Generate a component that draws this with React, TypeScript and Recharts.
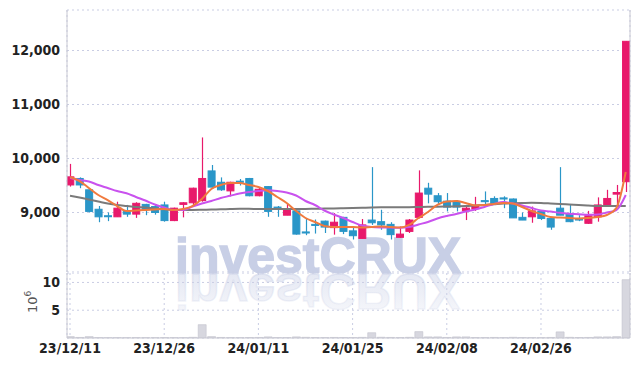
import React from 'react';
import { Bar, CartesianGrid, ComposedChart, Line, XAxis, YAxis } from 'recharts';

// trading days, 23/12/11 .. 24/03/11
const dates = [
  '23/12/11', '23/12/12', '23/12/13', '23/12/14', '23/12/15', '23/12/18', '23/12/19', '23/12/20', '23/12/21', '23/12/22',
  '23/12/26', '23/12/27', '23/12/28', '24/01/02', '24/01/03', '24/01/04', '24/01/05', '24/01/08', '24/01/09', '24/01/10',
  '24/01/11', '24/01/12', '24/01/15', '24/01/16', '24/01/17', '24/01/18', '24/01/19', '24/01/22', '24/01/23', '24/01/24',
  '24/01/25', '24/01/26', '24/01/29', '24/01/30', '24/01/31', '24/02/01', '24/02/02', '24/02/05', '24/02/06', '24/02/07',
  '24/02/08', '24/02/13', '24/02/14', '24/02/15', '24/02/16', '24/02/19', '24/02/20', '24/02/21', '24/02/22', '24/02/23',
  '24/02/26', '24/02/27', '24/02/28', '24/02/29', '24/03/04', '24/03/05', '24/03/06', '24/03/07', '24/03/08', '24/03/11',
];

const openPrices = [
  9510, 9630, 9420, 9060, 8940, 8920, 9030, 8970, 9150, 9110,
  9140, 8850, 9150, 9180, 9220, 9770, 9560, 9400, 9580, 9630,
  9310, 9480, 9100, 8950, 9030, 8640, 8780, 8840, 8720, 8910,
  8660, 8520, 8860, 8830, 8780, 8540, 8650, 8910, 9450, 9310,
  9210, 9200, 9030, 9070, 9220, 9260, 9270, 9250, 8910, 8920,
  9020, 8890, 9080, 8970, 8880, 8800, 8920, 9130, 9340, 9570,
];
const closePrices = [
  9660, 9510, 9020, 8920, 8930, 9080, 8970, 9170, 9050, 9000,
  8850, 9080, 9180, 9450, 9630, 9470, 9420, 9560, 9560, 9310,
  9430, 9020, 9060, 9050, 8600, 8620, 8760, 8730, 8820, 8650,
  8570, 8770, 8810, 8770, 8590, 8600, 8860, 9360, 9340, 9200,
  9100, 9100, 9080, 9110, 9200, 9170, 9250, 8900, 8860, 9030,
  8890, 8730, 8950, 8830, 8860, 8940, 9140, 9260, 9370, 12170,
];
const highPrices = [
  9900, 9650, 9450, 9120, 9000, 9200, 9140, 9190, 9160, 9140,
  9200, 9090, 9190, 9460, 10390, 9880, 9650, 9570, 9620, 9640,
  9470, 9490, 9120, 9170, 9040, 8890, 8870, 8850, 8990, 8920,
  8740, 8880, 9840, 9050, 8820, 8740, 8880, 9780, 9550, 9360,
  9360, 9230, 9140, 9290, 9390, 9300, 9300, 9260, 9000, 9110,
  9030, 8900, 9840, 9140, 8950, 9030, 9280, 9420, 9510, 12170,
];
const lowPrices = [
  9480, 9450, 9000, 8820, 8840, 8920, 8920, 8900, 8950, 8960,
  8830, 8840, 8910, 9140, 9200, 9440, 9400, 9300, 9500, 9300,
  9300, 8920, 8920, 8950, 8590, 8580, 8610, 8620, 8590, 8600,
  8500, 8520, 8770, 8680, 8500, 8530, 8620, 8890, 9170, 9140,
  9020, 9020, 8860, 9030, 9140, 9140, 9080, 8900, 8860, 8810,
  8860, 8680, 8950, 8820, 8840, 8790, 8830, 9120, 9110, 9380,
];

// moving averages
const ma5 = [
  9657, 9583, 9454, 9324, 9231, 9120, 9028, 9037, 9046, 9056,
  9065, 9046, 9065, 9120, 9250, 9435, 9509, 9546, 9546, 9509,
  9472, 9398, 9287, 9176, 9028, 8898, 8824, 8750, 8731, 8731,
  8730, 8720, 8730, 8740, 8730, 8720, 8769, 8898, 9009, 9139,
  9204, 9213, 9176, 9130, 9139, 9157, 9176, 9167, 9102, 9028,
  8972, 8917, 8907, 8898, 8889, 8898, 8917, 8954, 9083, 9750,
];
const ma20 = [
  9639, 9602, 9574, 9509, 9454, 9398, 9356, 9287, 9222, 9148,
  9093, 9046, 9046, 9111, 9167, 9213, 9269, 9309, 9352, 9380,
  9398, 9411, 9398, 9370, 9315, 9213, 9139, 9037, 8963, 8898,
  8824, 8759, 8731, 8722, 8720, 8718, 8731, 8778, 8824, 8889,
  8935, 8972, 9019, 9056, 9102, 9157, 9194, 9167, 9130, 9083,
  9037, 9019, 8994, 8978, 8969, 8957, 8963, 9000, 9046, 9324,
];
const ma60 = [
  9311, 9278, 9241, 9204, 9167, 9139, 9120, 9102, 9093, 9074,
  9059, 9046, 9046, 9046, 9050, 9056, 9059, 9065, 9069, 9069,
  9065, 9065, 9065, 9065, 9065, 9065, 9069, 9072, 9076, 9080,
  9083, 9087, 9093, 9096, 9096, 9096, 9098, 9102, 9106, 9107,
  9111, 9115, 9120, 9130, 9139, 9152, 9165, 9172, 9176, 9180,
  9176, 9167, 9157, 9148, 9139, 9130, 9120, 9120, 9120, 9120,
];

// volume, millions of shares
const volume = [
  0.25, 0.1, 0.25, 0.08, 0.06, 0.07, 0.06, 0.08, 0.07, 0.06,
  0.09, 0.07, 0.06, 0.12, 2.4, 0.25, 0.1, 0.08, 0.07, 0.09,
  0.1, 0.2, 0.08, 0.07, 0.2, 0.12, 0.09, 0.08, 0.1, 0.09,
  0.08, 0.11, 0.95, 0.14, 0.1, 0.08, 0.12, 1.15, 0.2, 0.2,
  0.1, 0.2, 0.2, 0.09, 0.08, 0.1, 0.07, 0.12, 0.09, 0.08,
  0.07, 0.1, 1.1, 0.12, 0.09, 0.1, 0.2, 0.2, 0.25, 10.5,
];

const priceTicks = [8000, 9000, 10000, 11000, 12000];
const volumeTicks = [5, 10];
const dateTicks = [0, 10, 20, 30, 40, 50];

const rows = dates.map((date, i) => ({
  i,
  date,
  open: openPrices[i],
  close: closePrices[i],
  high: highPrices[i],
  low: lowPrices[i],
  ma5: ma5[i],
  ma20: ma20[i],
  ma60: ma60[i],
  volume: volume[i],
}));

const UP = '#e8196b';
const DOWN = '#2a96c8';
const GRID = '#c9cde3';
const AXIS = '#c8c8d2';
const X_DOMAIN = [-0.32, 59.45];
const PRICE_DOMAIN = [7898, 12750];
const VOL_DOMAIN = [0, 11.7];

const tickStyle = {
  fontFamily: "'Liberation Sans Narrow', 'DejaVu Sans Condensed', sans-serif",
  fontWeight: 700,
  fontSize: 14,
  fill: '#222',
};

const Candle = (props: any) => {
  const { x, y, width, height, payload } = props;
  if (!payload || width == null) return null;
  const { open, close, high, low } = payload;
  const top = Math.min(y, y + height);
  const h = Math.abs(height);
  const k = h / (high - low);
  const py = (v: number) => top + (high - v) * k;
  const color = close >= open ? UP : DOWN;
  const cx = Math.round(x + width / 2) + 0.5;
  const bTop = py(Math.max(open, close));
  const bH = Math.max(1, py(Math.min(open, close)) - bTop);
  return (
    <g>
      <line x1={cx} x2={cx} y1={top} y2={top + h} stroke={color} strokeWidth={1.2} />
      <rect x={x + 0.5} y={bTop} width={width - 1} height={bH} fill={color} stroke={color} strokeWidth={1} />
    </g>
  );
};

const wmFont = "'Liberation Sans', Arial, sans-serif";

const Watermark = () => (
  <svg width={639} height={366} style={{ position: 'absolute', left: 0, top: 0 }}>
    <defs>
      <linearGradient id="wmFade" x1="0" y1="0" x2="0" y2="1">
        <stop offset="0" stopColor="#cdd3e8" stopOpacity={0.15} />
        <stop offset="1" stopColor="#cdd3e8" stopOpacity={0.6} />
      </linearGradient>
    </defs>
    <text x={175} y={273} fontFamily={wmFont} fontWeight={700} fontSize={50} fill="#c8cfe6" stroke="#c8cfe6" strokeWidth={1.4}>
      investCRUX
    </text>
    <g transform="translate(0,547) scale(1,-1)">
      <text x={175} y={273} fontFamily={wmFont} fontWeight={700} fontSize={50} fill="url(#wmFade)" stroke="url(#wmFade)" strokeWidth={1.4}>
        investCRUX
      </text>
    </g>
  </svg>
);

const App: React.FC = () => {
  return (
    <div style={{ position: 'absolute', left: 0, top: 0, width: 639, height: 366, background: '#fff' }}>
      <Watermark />
      <div style={{ position: 'absolute', left: 0, top: 0 }}>
        <ComposedChart width={639} height={272} data={rows} margin={{ top: 10, right: 0, bottom: 0, left: 0 }}>
          <CartesianGrid stroke={GRID} strokeDasharray="2 3" />
          <XAxis
            type="number"
            dataKey="i"
            domain={X_DOMAIN}
            ticks={dateTicks}
            allowDataOverflow
            height={0}
            tick={false}
            tickLine={false}
            axisLine={{ stroke: AXIS }}
          />
          <YAxis
            domain={PRICE_DOMAIN}
            ticks={priceTicks}
            allowDataOverflow
            width={67}
            tickSize={0}
            tickMargin={7}
            tickLine={false}
            axisLine={{ stroke: AXIS }}
            tick={tickStyle}
            tickFormatter={(v: number) => v.toLocaleString('en-US')}
          />
          <YAxis yAxisId="r" orientation="right" width={9} domain={PRICE_DOMAIN} tick={false} tickLine={false} axisLine={{ stroke: AXIS }} />
          <Bar dataKey={(d: any) => [d.low, d.high]} shape={<Candle />} barSize={8} isAnimationActive={false} />
          <Line type="monotone" dataKey="ma60" stroke="#7a7a7a" strokeWidth={2} dot={false} isAnimationActive={false} />
          <Line type="monotone" dataKey="ma20" stroke="#c952ee" strokeWidth={2} dot={false} isAnimationActive={false} />
          <Line type="monotone" dataKey="ma5" stroke="#f07a3e" strokeWidth={2} dot={false} isAnimationActive={false} />
        </ComposedChart>
      </div>
      <div style={{ position: 'absolute', left: 0, top: 272 }}>
        <ComposedChart width={639} height={94} data={rows} margin={{ top: 1, right: 0, bottom: 0, left: 0 }}>
          <CartesianGrid stroke={GRID} strokeDasharray="2 3" />
          <XAxis
            type="number"
            dataKey="i"
            domain={X_DOMAIN}
            ticks={dateTicks}
            allowDataOverflow
            height={28}
            tickSize={0}
            tickMargin={5}
            tickLine={false}
            axisLine={{ stroke: AXIS }}
            tick={tickStyle}
            tickFormatter={(v: number) => dates[v]}
          />
          <YAxis
            domain={VOL_DOMAIN}
            ticks={volumeTicks}
            allowDataOverflow
            width={67}
            tickSize={0}
            tickMargin={7}
            tickLine={false}
            axisLine={{ stroke: AXIS }}
            tick={tickStyle}
          />
          <YAxis yAxisId="r" orientation="right" width={9} domain={VOL_DOMAIN} tick={false} tickLine={false} axisLine={{ stroke: AXIS }} />
          <Bar dataKey="volume" fill="#d7d7df" stroke="#c2c2cc" strokeWidth={0.6} barSize={8} isAnimationActive={false} />
        </ComposedChart>
      </div>
      <svg width={639} height={366} style={{ position: 'absolute', left: 0, top: 0, pointerEvents: 'none' }}>
        <text transform="translate(37,313) rotate(-90)" fontFamily="'DejaVu Sans', sans-serif" fontSize={13} fill="#555">
          10
          <tspan fontSize={9} dy={-6}>6</tspan>
        </text>
      </svg>
    </div>
  );
};

export default App;
